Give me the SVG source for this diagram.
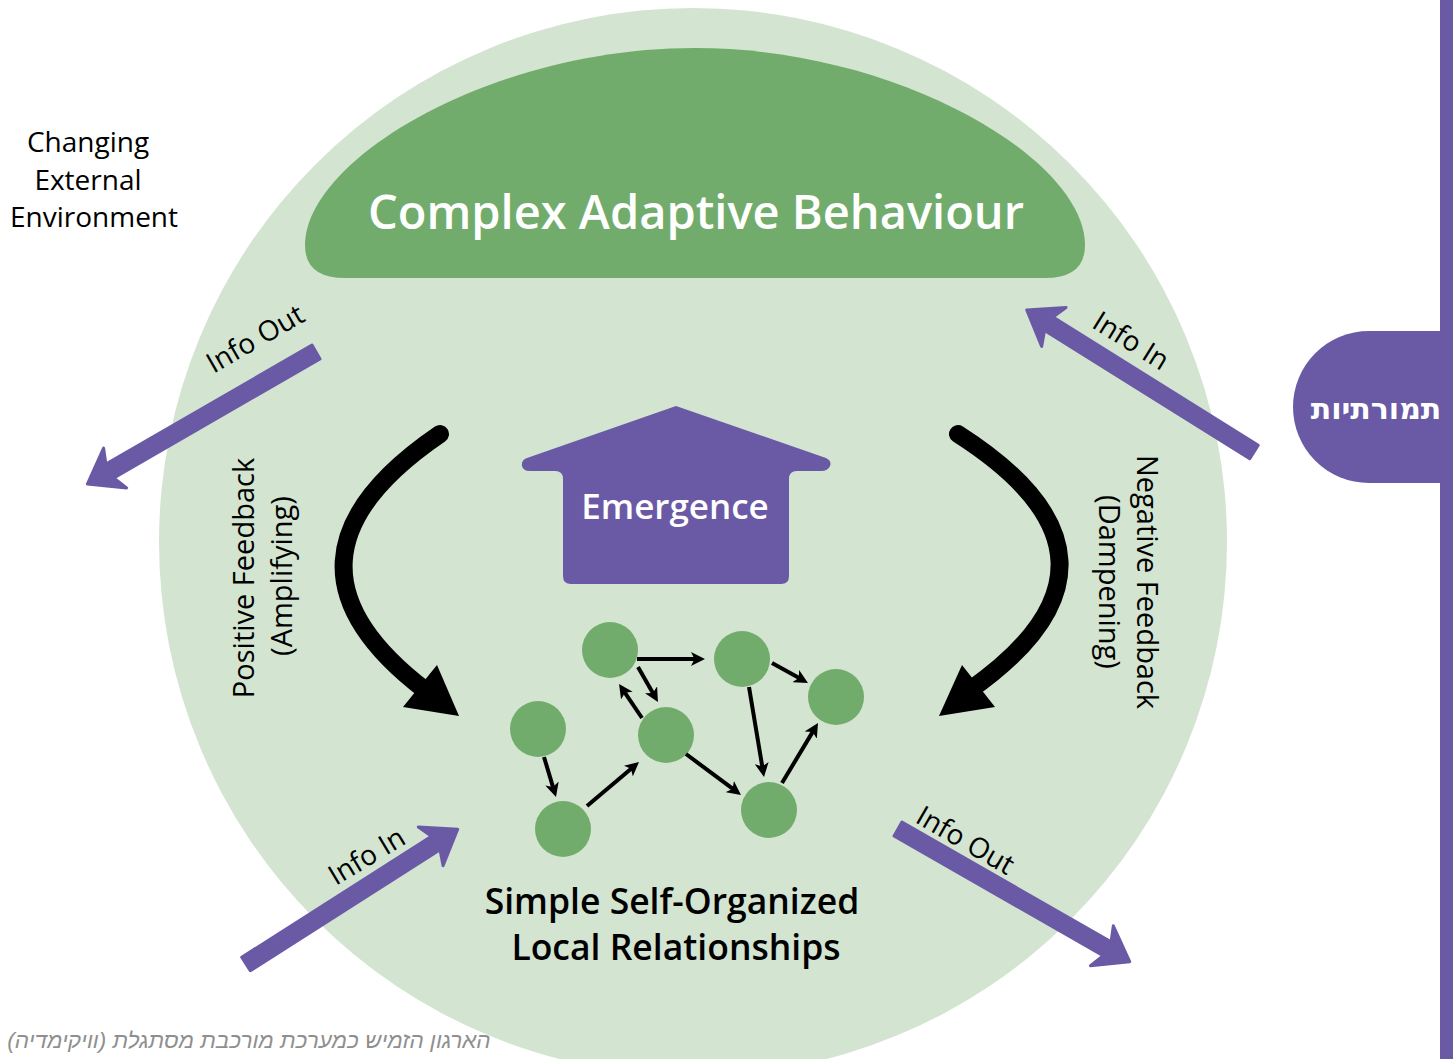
<svg xmlns="http://www.w3.org/2000/svg" width="1453" height="1059" viewBox="0 0 1453 1059">
  <style>
    .lbl { font-family: "Open Sans", "DejaVu Sans", sans-serif; font-size: 28px; fill: #000; }
    .fb { font-family: "Open Sans", "DejaVu Sans", sans-serif; font-size: 29px; fill: #000; text-anchor: middle; }
    .info { font-family: "Open Sans", "DejaVu Sans", sans-serif; font-size: 28px; fill: #000; text-anchor: middle; }
    .head { font-family: "Open Sans", "DejaVu Sans", sans-serif; font-weight: 600; fill: #fff; text-anchor: middle; }
    .dark { font-family: "Open Sans", "DejaVu Sans", sans-serif; font-weight: 600; font-size: 35.5px; fill: #000; text-anchor: middle; }
    .node { fill: #72ac6c; }
    .edge { stroke: #000; stroke-width: 4; fill: none; marker-end: url(#ah); }
    .parrow { fill: #6a5aa5; stroke: #6a5aa5; stroke-width: 3; stroke-linejoin: round; }
    .purple { fill: #6a5aa5; }
  </style>
  <defs>
    <marker id="ah" viewBox="0 0 10 10" refX="4.3" refY="5" markerWidth="14" markerHeight="14" markerUnits="userSpaceOnUse" orient="auto">
      <path d="M0,0 L10,5 L0,10 L2.5,5 Z" fill="#000"/>
    </marker>
  </defs>

  <rect width="1453" height="1059" fill="#fff"/>

  <!-- background circle -->
  <circle id="system" cx="693" cy="542" r="534" fill="#d3e4d1"/>

  <!-- right side bar and tab -->
  <g id="side-tab">
    <rect class="purple" x="1440" y="0" width="13" height="1059"/>
    <path class="purple" d="M1453 331 L1369 331 A76 76 0 0 0 1369 483 L1453 483 Z"/>
    <text x="1376" y="419" text-anchor="middle" direction="rtl" style="direction:rtl; unicode-bidi:embed; font-family:'DejaVu Sans','Liberation Sans',sans-serif; font-weight:700; font-size:30px; fill:#fff;">תמורתיות</text>
  </g>

  <!-- environment label -->
  <g id="environment">
    <text class="lbl" x="88" y="152" text-anchor="middle">Changing</text>
    <text class="lbl" x="88" y="190" text-anchor="middle">External</text>
    <text class="lbl" x="94" y="227" text-anchor="middle">Environment</text>
  </g>

  <!-- complex adaptive behaviour dome -->
  <g id="behaviour">
    <path d="M345 278 L1045 278 Q1085 278 1085 245 C1085 160 900 48 695 48 C490 48 305 160 305 245 Q305 278 345 278 Z" fill="#72ac6c"/>
    <text class="head" x="696" y="229" font-size="47">Complex Adaptive Behaviour</text>
  </g>

  <!-- emergence -->
  <g id="emergence">
    <path class="purple" d="M676 406 L826 458 Q832 461 830 466 Q828 471 821 471 L797 471 Q789 471 789 479 L789 576 Q789 584 781 584 L571 584 Q563 584 563 576 L563 479 Q563 471 555 471 L530 471 Q523 471 522 466 Q521 460 527 458 Z"/>
    <text class="head" x="675" y="519" font-size="35">Emergence</text>
  </g>

  <!-- feedback loops -->
  <g id="positive-feedback">
    <path d="M440 434 Q255 560 425 690" fill="none" stroke="#000" stroke-width="18" stroke-linecap="round"/>
    <polygon points="459,716 403,707 437,665" fill="#000"/>
    <text class="fb" transform="translate(254,578) rotate(-90)">Positive Feedback</text>
    <text class="fb" transform="translate(292,576) rotate(-90)">(Amplifying)</text>
  </g>
  <g id="negative-feedback">
    <path d="M958 434 Q1155 560 970 690" fill="none" stroke="#000" stroke-width="18" stroke-linecap="round"/>
    <polygon points="939,716 995,707 962,665" fill="#000"/>
    <text class="fb" transform="translate(1137,582) rotate(90)">Negative Feedback</text>
    <text class="fb" transform="translate(1099,582) rotate(90)">(Dampening)</text>
  </g>

  <!-- info arrows -->
  <g id="info-out-top">
    <path class="parrow" transform="translate(316,352) rotate(150)" d="M0,-8 L238,-8 L232,-23 L264,0 L232,23 L238,8 L0,8 Z"/>
    <text class="info" transform="translate(260,347) rotate(-30)">Info Out</text>
  </g>
  <g id="info-in-top">
    <path class="parrow" transform="translate(1254,452) rotate(-148)" d="M0,-8 L242,-8 L236,-23 L268,0 L236,23 L242,8 L0,8 Z"/>
    <text class="info" transform="translate(1126,349) rotate(32)">Info In</text>
  </g>
  <g id="info-in-bottom">
    <path class="parrow" transform="translate(246,964) rotate(-32.5)" d="M0,-8 L225,-8 L219,-23 L251,0 L219,23 L225,8 L0,8 Z"/>
    <text class="info" transform="translate(371.6,864.5) rotate(-31)">Info In</text>
  </g>
  <g id="info-out-bottom">
    <path class="parrow" transform="translate(898,829) rotate(29.8)" d="M0,-8 L241,-8 L235,-23 L267,0 L235,23 L241,8 L0,8 Z"/>
    <text class="info" transform="translate(960.5,848.6) rotate(30)">Info Out</text>
  </g>

  <!-- local network nodes -->
  <g id="node-a"><circle class="node" cx="610" cy="650" r="28"/></g>
  <g id="node-b"><circle class="node" cx="742" cy="659" r="28"/></g>
  <g id="node-c"><circle class="node" cx="836" cy="697" r="28"/></g>
  <g id="node-d"><circle class="node" cx="538" cy="729" r="28"/></g>
  <g id="node-e"><circle class="node" cx="666" cy="735" r="28"/></g>
  <g id="node-f"><circle class="node" cx="563" cy="829" r="28"/></g>
  <g id="node-g"><circle class="node" cx="769" cy="810" r="28"/></g>

  <!-- connectors -->
  <g id="connectors">
    <path class="edge" d="M637 659 L697 659"/>
    <path class="edge" d="M638 667 L654 695.1"/>
    <path class="edge" d="M642 718 L623.5 690.6"/>
    <path class="edge" d="M772 663 L801 679.1"/>
    <path class="edge" d="M749 687 L762.7 769.1"/>
    <path class="edge" d="M782 783 L813.9 729.9"/>
    <path class="edge" d="M686 754 L734.6 790.2"/>
    <path class="edge" d="M544 757 L553.7 789.3"/>
    <path class="edge" d="M587 806 L632.9 767.2"/>
  </g>

  <!-- bottom label -->
  <g id="local-label">
    <text class="dark" x="672" y="914">Simple Self-Organized</text>
    <text class="dark" x="676" y="960">Local Relationships</text>
  </g>

  <!-- caption -->
  <text x="249" y="1048" text-anchor="middle" direction="rtl" style="direction:rtl; unicode-bidi:embed; font-family:'Liberation Sans','DejaVu Sans',sans-serif; font-style:italic; font-size:22.5px; fill:#8f8f8f;">הארגון הזמיש כמערכת מורכבת מסתגלת (וויקימדיה)</text>
</svg>
